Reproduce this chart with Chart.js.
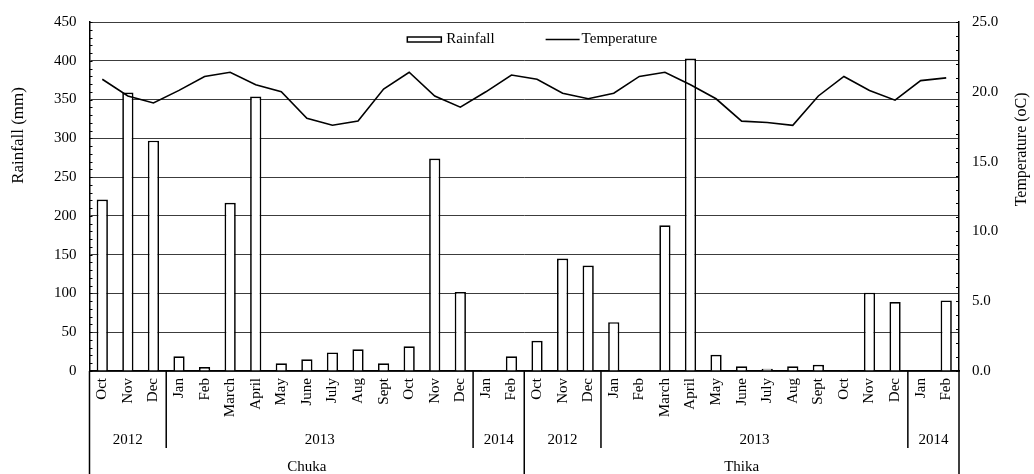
<!DOCTYPE html>
<html>
<head>
<meta charset="utf-8">
<script src="https://cdn.jsdelivr.net/npm/chart.js@4.4.1/dist/chart.umd.min.js"></script>
<style>
  html, body { margin: 0; padding: 0; background: #ffffff; }
  #wrap { width: 1034px; height: 474px; }
</style>
</head>
<body>
<div id="wrap"><canvas id="c" width="1034" height="474"></canvas></div>
<script>
// Monthly rainfall and mean temperature at Chuka and Thika, Oct 2012 – Feb 2014
const months = [
  'Oct','Nov','Dec','Jan','Feb','March','April','May','June','July','Aug','Sept','Oct','Nov','Dec','Jan','Feb',
  'Oct','Nov','Dec','Jan','Feb','March','April','May','June','July','Aug','Sept','Oct','Nov','Dec','Jan','Feb'
];
const rainfall = [
  221, 359, 297, 19, 5, 217, 354, 10, 15, 24, 28, 10, 32, 274, 102, 1, 19,
  39, 145, 136, 63, 0, 188, 403, 21, 6, 3, 6, 8, 1, 101, 89, 0, 91
];
const temperature = [
  20.9, 19.7, 19.2, 20.1, 21.1, 21.4, 20.5, 20.0, 18.1, 17.6, 17.9, 20.2, 21.4, 19.7, 18.9, 20.0, 21.2,
  20.9, 19.9, 19.5, 19.9, 21.1, 21.4, 20.5, 19.5, 17.9, 17.8, 17.6, 19.7, 21.1, 20.1, 19.4, 20.8, 21.0
];
const yearLabels = ['2012', '2013', '2014', '2012', '2013', '2014'];
const yearSpans = [3, 12, 2, 3, 12, 2];
const sites = ['Chuka', 'Thika'];
const siteSpans = [17, 17];

const FONT = '"Liberation Serif", "Times New Roman", serif';
Chart.defaults.font.family = FONT;
Chart.defaults.color = '#000';

// Extra drawing: minor ticks, grouped category labels, axis titles, legend
const decorations = {
  id: 'decorations',
  afterDraw(chart) {
    const ctx = chart.ctx;
    const area = chart.chartArea;
    const xs = chart.scales.x, ys = chart.scales.y, y1 = chart.scales.y1;
    const H = chart.height;
    ctx.save();
    ctx.strokeStyle = '#000';
    ctx.fillStyle = '#000';

    // minor ticks pointing into the plot
    ctx.lineWidth = 1;
    ctx.beginPath();
    for (let v = 0; v <= ys.max; v += 10) {
      const p = Math.round(ys.getPixelForValue(v)) + 0.5;
      ctx.moveTo(area.left, p); ctx.lineTo(area.left + 3, p);
    }
    for (let v = 0; v <= y1.max; v += 1) {
      const p = Math.round(y1.getPixelForValue(v)) + 0.5;
      ctx.moveTo(area.right, p); ctx.lineTo(area.right - 3, p);
    }
    ctx.stroke();

    // grouped category axis: years and sites
    const step = (xs.right - xs.left) / months.length;
    const yearBottom = area.bottom + 77;
    const yearMid = area.bottom + 69;
    const siteMid = area.bottom + 96;
    ctx.font = '15px ' + FONT;
    ctx.textAlign = 'center';
    ctx.textBaseline = 'middle';
    ctx.lineWidth = 1.5;

    let idx = 0;
    const siteEdges = [0];
    let acc = 0;
    siteSpans.forEach(s => { acc += s; siteEdges.push(acc); });
    const isSiteEdge = k => siteEdges.includes(k);
    ctx.beginPath();
    ctx.moveTo(xs.left, area.bottom); ctx.lineTo(xs.left, H);
    yearSpans.forEach((span, i) => {
      const x0 = xs.left + idx * step;
      const x1 = xs.left + (idx + span) * step;
      ctx.fillText(yearLabels[i], (x0 + x1) / 2, yearMid);
      idx += span;
      ctx.moveTo(x1, area.bottom);
      ctx.lineTo(x1, isSiteEdge(idx) ? H : yearBottom);
    });
    ctx.stroke();
    siteSpans.forEach((span, i) => {
      const x0 = xs.left + siteEdges[i] * step;
      const x1 = xs.left + siteEdges[i + 1] * step;
      ctx.fillText(sites[i], (x0 + x1) / 2, siteMid);
    });

    // axis titles
    const plotH = area.bottom - area.top;
    ctx.save();
    ctx.font = '17px ' + FONT;
    ctx.translate(19, area.top + plotH * 0.325);
    ctx.rotate(-Math.PI / 2);
    ctx.fillText('Rainfall (mm)', 0, 0);
    ctx.restore();
    ctx.save();
    ctx.font = '16px ' + FONT;
    ctx.translate(1022, area.top + plotH * 0.365);
    ctx.rotate(-Math.PI / 2);
    ctx.fillText('Temperature (oC)', 0, 0);
    ctx.restore();

    // legend inside the plot, near the top
    const bar = chart.data.datasets[1];
    const line = chart.data.datasets[0];
    ctx.font = '15px ' + FONT;
    ctx.textAlign = 'left';
    const ly = area.top + 17.5;
    const sw = 34, gapT = 5, gapItem = 51;
    const w1 = ctx.measureText(bar.label).width;
    const w2 = ctx.measureText(line.label).width;
    const total = sw + gapT + w1 + gapItem + sw + 2 + w2;
    let lx = (area.left + area.right) / 2 + 8 - total / 2;
    ctx.fillStyle = bar.backgroundColor;
    ctx.fillRect(lx, ly - 2.5, sw, 5);
    ctx.lineWidth = 1.5;
    ctx.strokeStyle = bar.borderColor;
    ctx.strokeRect(lx, ly - 2.5, sw, 5);
    ctx.fillStyle = '#000';
    ctx.fillText(bar.label, lx + sw + gapT, ly);
    lx += sw + gapT + w1 + gapItem;
    ctx.strokeStyle = line.borderColor;
    ctx.lineWidth = line.borderWidth;
    ctx.beginPath();
    ctx.moveTo(lx, ly); ctx.lineTo(lx + sw, ly);
    ctx.stroke();
    ctx.fillText(line.label, lx + sw + 2, ly);

    ctx.restore();
  }
};

new Chart(document.getElementById('c'), {
  data: {
    labels: months,
    datasets: [
      {
        type: 'line',
        label: 'Temperature',
        data: temperature,
        yAxisID: 'y1',
        borderColor: '#000',
        backgroundColor: '#000',
        borderWidth: 1.6,
        pointRadius: 0,
        tension: 0,
        order: 0
      },
      {
        type: 'bar',
        label: 'Rainfall',
        data: rainfall,
        yAxisID: 'y',
        backgroundColor: '#fff',
        borderColor: '#000',
        borderWidth: 1.7,
        barPercentage: 0.44,
        categoryPercentage: 1,
        order: 1
      }
    ]
  },
  options: {
    responsive: false,
    devicePixelRatio: 1,
    animation: false,
    layout: { padding: { top: 15, left: 0, right: 0, bottom: 0 } },
    plugins: { legend: { display: false }, title: { display: false }, tooltip: { enabled: false } },
    scales: {
      x: {
        type: 'category',
        offset: true,
        grid: { display: false, drawTicks: false },
        border: { color: '#000', width: 1.5 },
        ticks: {
          autoSkip: false,
          minRotation: 90,
          maxRotation: 90,
          padding: 7,
          font: { size: 15 },
          color: '#000'
        },
        afterFit(scale) { scale.height = 103; }
      },
      y: {
        position: 'left',
        min: 0,
        max: 450,
        grid: { color: '#3c3c3c', lineWidth: 1, drawTicks: false },
        border: { color: '#000', width: 1.5 },
        ticks: { stepSize: 50, padding: 13, font: { size: 15 }, color: '#000' },
        afterFit(scale) { scale.width = 89.5; }
      },
      y1: {
        position: 'right',
        min: 0,
        max: 25,
        grid: { drawOnChartArea: false, drawTicks: false },
        border: { color: '#000', width: 1.5 },
        ticks: {
          stepSize: 5,
          padding: 13,
          font: { size: 15 },
          color: '#000',
          callback: v => Number(v).toFixed(1)
        },
        afterFit(scale) { scale.width = 75; }
      }
    }
  },
  plugins: [decorations]
});
</script>
</body>
</html>
